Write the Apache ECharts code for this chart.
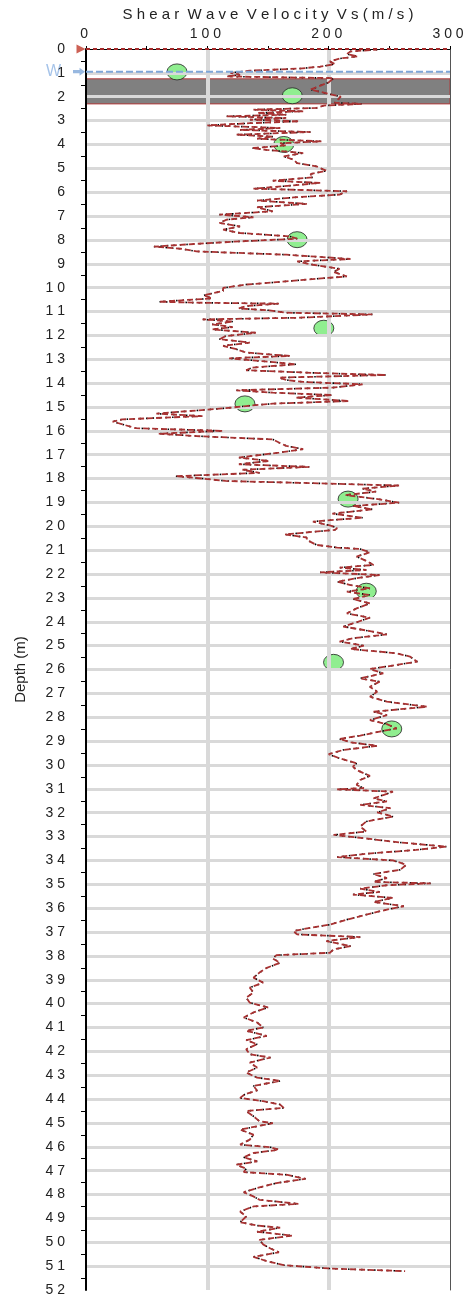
<!DOCTYPE html>
<html><head><meta charset="utf-8">
<script src="https://cdn.jsdelivr.net/npm/echarts@6/dist/echarts.min.js"></script>
<style>html,body{margin:0;padding:0;background:#fff}#c{width:465px;height:1298px}</style>
</head><body><div id="c"></div>
<script>
// ---- data ----
const titleText = 'Shear Wave Velocity Vs(m/s)';
const depthName = 'Depth (m)';
const xMin = 0, xMax = 300, xStep = 100;
const depthMin = 0, depthMax = 52, depthStep = 1;

const profileDepth = [0.03,0.10,0.21,0.31,0.40,0.52,0.63,0.74,0.82,0.91,1.00,1.08,1.15,1.22,1.40,1.70,2.00,2.25,2.30,2.37,2.47,2.54,2.61,2.68,2.75,2.82,2.89,2.96,3.03,3.11,3.20,3.31,3.39,3.48,3.59,3.67,3.76,3.87,3.95,4.04,4.15,4.23,4.36,4.50,4.64,4.78,4.92,5.10,5.24,5.38,5.52,5.61,5.75,5.85,5.96,6.10,6.22,6.35,6.49,6.63,6.80,6.94,7.05,7.15,7.29,7.43,7.57,7.71,7.85,7.95,8.06,8.17,8.28,8.37,8.48,8.62,8.73,8.80,8.90,9.04,9.21,9.34,9.53,9.66,9.76,9.87,10.01,10.14,10.32,10.45,10.59,10.63,10.67,10.77,10.87,10.95,11.05,11.12,11.26,11.33,11.42,11.54,11.65,11.75,11.89,12.03,12.16,12.30,12.44,12.58,12.72,12.86,12.96,13.07,13.21,13.35,13.46,13.58,13.66,13.77,13.87,13.95,14.05,14.19,14.30,14.40,14.50,14.61,14.75,14.86,14.96,15.06,15.17,15.28,15.38,15.52,15.61,15.89,16.00,16.12,16.22,16.36,16.49,16.63,16.77,16.91,17.12,17.26,17.40,17.51,17.63,17.76,17.90,18.00,18.10,18.20,18.29,18.42,18.55,18.69,18.87,19.01,19.15,19.29,19.47,19.64,19.80,19.99,20.08,20.15,20.34,20.47,20.57,20.78,20.89,20.95,21.09,21.27,21.45,21.62,21.73,21.83,21.93,22.04,22.15,22.32,22.46,22.60,22.74,22.88,23.05,23.23,23.44,23.65,23.83,24.02,24.20,24.39,24.53,24.69,24.83,25.00,25.14,25.32,25.46,25.67,25.81,25.98,26.16,26.37,26.51,26.72,26.93,27.14,27.35,27.56,27.77,27.91,28.12,28.29,28.47,28.60,28.77,28.91,29.05,29.20,29.37,29.55,29.72,29.93,30.07,30.21,30.46,30.63,30.84,30.97,31.02,31.12,31.26,31.40,31.53,31.67,31.81,31.99,32.16,32.37,32.58,32.79,32.93,33.07,33.25,33.42,33.56,33.72,33.86,34.00,34.18,34.39,34.57,34.74,34.90,34.96,35.04,35.18,35.32,35.43,35.57,35.74,35.92,36.06,36.27,36.48,36.69,36.82,36.96,37.10,37.21,37.38,37.59,37.73,37.87,37.97,38.11,38.29,38.50,38.70,38.91,39.12,39.33,39.54,39.75,39.96,40.16,40.37,40.58,40.79,41.00,41.14,41.35,41.53,41.70,41.91,42.12,42.26,42.47,42.68,42.89,43.10,43.24,43.45,43.64,43.80,43.95,44.09,44.23,44.37,44.50,44.72,44.93,45.01,45.14,45.28,45.49,45.70,45.91,46.02,46.12,46.26,46.44,46.61,46.75,46.92,47.06,47.17,47.34,47.52,47.73,47.90,48.08,48.22,48.39,48.50,48.71,48.92,49.16,49.30,49.39,49.56,49.72,49.90,50.09,50.26,50.42,50.61,50.79,50.96,51.10,51.21];
const profileVs = [240,218,215,224,209,201,205,193,176,135,119,127,116,204,200,185,210,205,227,196,190,138,179,141,165,116,165,135,176,135,100,160,127,185,124,154,141,194,160,165,137,149,179,163,171,174,190,198,185,187,154,193,163,138,215,209,171,141,182,141,154,110,138,116,110,127,113,127,168,174,127,89,56,78,91,165,198,218,174,187,209,204,215,182,160,132,113,113,97,104,60,91,159,132,126,151,165,236,176,96,121,104,121,104,140,115,110,135,113,124,132,168,118,143,173,137,132,192,247,159,165,179,228,203,124,154,203,173,217,154,132,113,85,58,96,30,22,41,113,60,91,154,159,165,179,159,126,151,126,184,129,143,74,96,115,192,258,228,239,214,242,258,220,236,203,228,187,203,207,205,164,182,182,190,207,226,234,223,231,237,209,231,193,242,226,207,218,234,215,234,220,234,223,215,234,223,212,234,248,220,209,229,218,256,267,273,256,234,245,226,242,234,240,234,248,281,237,248,234,248,256,242,226,209,218,240,212,200,209,223,220,223,234,226,223,229,207,253,245,237,248,226,251,240,253,231,226,231,204,229,259,297,272,231,207,253,264,259,237,248,237,284,248,226,242,220,253,237,262,248,231,215,201,185,171,174,226,198,218,204,201,157,154,160,149,143,138,146,135,138,132,135,150,138,130,141,146,132,149,132,141,132,135,152,135,141,132,141,160,138,141,131,127,146,160,163,132,138,143,154,141,127,138,135,127,152,159,138,130,141,124,132,130,165,181,157,141,130,138,143,175,138,127,132,127,141,160,141,170,143,146,152,159,138,149,163,201,263];

const testDepth = [0.96,1.96,4.00,7.99,11.70,14.87,18.86,22.72,25.70,28.49];
const testVs = [75,170,163,174,196,131,216,231,204,252];

const waterDepth = 0.95;
const waterLabel = 'W';
const bandTop = 1.25, bandBottom = 2.30;
const groundDepth = 0;

// ---- helpers ----
const spaced = s => s.split(' ').map(w => w.split('').join(' ')).join('  ');
const FONT = 'Liberation Sans, Arial, Helvetica, sans-serif';
const profile = profileDepth.map((d, i) => [profileVs[i], d]);
const tests = testDepth.map((d, i) => [testVs[i], d]);
const ellipse = 'path://M0,50 A50,50 0 1,1 100,50 A50,50 0 1,1 0,50 Z';
const arrow = 'path://M0,3 L6,3 L6,0 L11,5 L6,10 L6,7 L0,7 Z';

const chart = echarts.init(document.getElementById('c'), null, {renderer: 'canvas'});
chart.setOption({
  animation: false,
  backgroundColor: '#fff',
  textStyle: {fontFamily: FONT},
  grid: {left: 86, right: 15, top: 49, bottom: 8, containLabel: false, outerBoundsMode: 'none'},
  xAxis: {
    type: 'value', position: 'top', min: xMin, max: xMax, interval: xStep, z: 3,
    name: spaced(titleText), nameLocation: 'middle', nameGap: 27,
    nameTextStyle: {fontSize: 15, color: '#222', fontFamily: FONT},
    axisLine: {show: true, lineStyle: {color: '#000', width: 1}},
    axisTick: {show: true, length: 3, lineStyle: {color: '#000'}},
    minorTick: {show: true, splitNumber: 2, length: 3, lineStyle: {color: '#000'}},
    splitLine: {show: true, showMinLine: false, showMaxLine: false, lineStyle: {color: '#d9d9d9', width: 4}},
    axisLabel: {margin: 8, fontSize: 14, color: '#222', fontFamily: FONT,
      formatter: v => String(v).split('').join(' ') + ' '}
  },
  yAxis: [{
    type: 'value', inverse: true, min: depthMin, max: depthMax, interval: depthStep, z: 3,
    name: depthName, nameLocation: 'middle', nameGap: 58, nameRotate: 90,
    nameTextStyle: {fontSize: 15, color: '#222', fontFamily: FONT},
    axisLine: {show: true, lineStyle: {color: '#000', width: 2}},
    axisTick: {show: false},
    minorTick: {show: true, splitNumber: 2, length: 5, lineStyle: {color: '#000', width: 1}},
    splitLine: {show: true, showMinLine: false, showMaxLine: false, lineStyle: {color: '#d9d9d9', width: 3}},
    axisLabel: {margin: 21, fontSize: 14, color: '#222', fontFamily: FONT,
      formatter: v => String(v).split('').join(' ')}
  }, {
    type: 'value', inverse: true, min: depthMin, max: depthMax, position: 'right', z: 3,
    axisLine: {show: true, lineStyle: {color: '#555', width: 1}},
    axisTick: {show: false}, axisLabel: {show: false}, splitLine: {show: false}
  }],
  series: [
    {
      type: 'custom', z: 1, silent: true,
      data: [[bandTop, bandBottom]],
      renderItem: (params, api) => {
        const p1 = api.coord([xMin, api.value(0)]);
        const p2 = api.coord([xMax, api.value(1)]);
        return {type: 'rect', shape: {x: p1[0], y: p1[1], width: p2[0] - p1[0], height: p2[1] - p1[1]},
          style: {fill: '#808080', stroke: '#b23a3a', lineWidth: 1}};
      }
    },
    {
      type: 'scatter', z: 2, data: tests, symbol: ellipse, symbolSize: [20, 16],
      itemStyle: {color: '#90ee90', borderColor: '#222', borderWidth: 0.8, opacity: 1}
    },
    {
      type: 'line', z: 4, data: profile, showSymbol: false, symbol: 'none',
      lineStyle: {color: '#000', width: 1.6, type: [1.5, 5]}
    },
    {
      type: 'line', z: 5, data: profile, showSymbol: false, symbol: 'none',
      lineStyle: {color: '#a83232', width: 1.8, type: [6, 3], dashOffset: 2}
    },
    {
      type: 'line', z: 6, clip: false, data: [[xMin, waterDepth], [xMax, waterDepth]], symbol: 'none',
      lineStyle: {color: '#7ea6d8', width: 2, type: [7, 3]}
    },
    {
      type: 'scatter', z: 2, clip: false, data: [[xMin, waterDepth]], symbol: arrow, symbolSize: [12, 8],
      symbolOffset: [-7, 0], itemStyle: {color: '#7ea6d8'},
      label: {show: true, position: 'left', distance: 12, formatter: waterLabel, color: '#8eb4e3', fontSize: 16, fontFamily: FONT}
    },
    {
      type: 'line', z: 6, clip: false, data: [[xMin, groundDepth], [xMax, groundDepth]], symbol: 'none',
      lineStyle: {color: '#a52a2a', width: 2, type: [4, 3]}
    },
    {
      type: 'scatter', z: 6, clip: false, data: [[xMin, groundDepth]], symbol: 'triangle', symbolRotate: -90,
      symbolSize: 9, symbolOffset: [-5, 0], itemStyle: {color: '#c0392b'}
    }
  ]
});
</script>
</body></html>
